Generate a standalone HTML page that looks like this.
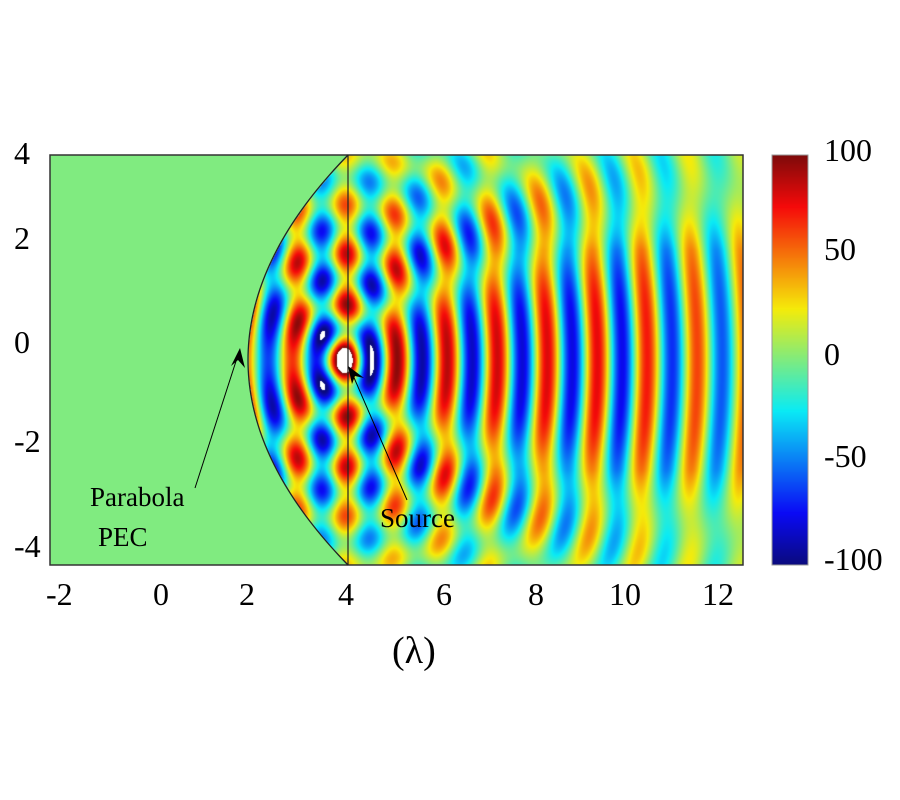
<!DOCTYPE html>
<html><head><meta charset="utf-8"><style>
body{margin:0;background:#fff;width:900px;height:800px;position:relative;overflow:hidden;font-family:"Liberation Serif",serif;}
.t{position:absolute;font-size:32px;color:#000;line-height:1;}
canvas{position:absolute;}
</style></head><body>
<canvas id="c" width="693" height="410" style="left:50px;top:155px"></canvas>
<canvas id="cb" width="36" height="410" style="left:772px;top:155px"></canvas>
<svg width="900" height="800" style="position:absolute;left:0;top:0">
<rect x="50" y="155" width="693" height="410" fill="none" stroke="#333" stroke-width="1.5"/>
<line x1="348" y1="155" x2="348" y2="565" stroke="#222" stroke-width="1.2"/>
<path id="par" fill="none" stroke="#222" stroke-width="1.3"/>
<rect x="772" y="155" width="36" height="410" fill="none" stroke="#999" stroke-width="1"/>
<line x1="195" y1="488" x2="238" y2="355" stroke="#000" stroke-width="1"/>
<polygon points="240,348 231,366 238,360 245,368" fill="#000"/>
<line x1="407" y1="500" x2="352" y2="373" stroke="#000" stroke-width="1"/>
<polygon points="348,366 352,384 355,376 364,378" fill="#000"/>
</svg>
<div class="t" style="left:14px;top:137px">4</div>
<div class="t" style="left:14px;top:222px">2</div>
<div class="t" style="left:14px;top:326px">0</div>
<div class="t" style="left:14px;top:425px">-2</div>
<div class="t" style="left:14px;top:530px">-4</div>
<div class="t" style="left:46px;top:578px">-2</div>
<div class="t" style="left:153px;top:578px">0</div>
<div class="t" style="left:239px;top:578px">2</div>
<div class="t" style="left:338px;top:578px">4</div>
<div class="t" style="left:436px;top:578px">6</div>
<div class="t" style="left:528px;top:578px">8</div>
<div class="t" style="left:609px;top:578px">10</div>
<div class="t" style="left:702px;top:578px">12</div>
<div class="t" style="left:392px;top:632px;font-size:38px">(λ)</div>
<div class="t" style="left:824px;top:134px">100</div>
<div class="t" style="left:824px;top:233px">50</div>
<div class="t" style="left:824px;top:338px">0</div>
<div class="t" style="left:824px;top:440px">-50</div>
<div class="t" style="left:824px;top:543px">-100</div>
<div class="t" style="left:90px;top:484px;font-size:27px">Parabola</div>
<div class="t" style="left:98px;top:524px;font-size:27px">PEC</div>
<div class="t" style="left:380px;top:505px;font-size:27px">Source</div>
<script>
function jet(v){
  var r=Math.min(Math.max(1.5-Math.abs(4*v-3),0),1),
      g=Math.min(Math.max(1.5-Math.abs(4*v-2),0),1),
      b=Math.min(Math.max(1.5-Math.abs(4*v-1),0),1);
  return [r*235+10,g*225+10,b*235+10];
}
var c=document.getElementById('c'),ctx=c.getContext('2d'),W=693,H=410;
var img=ctx.createImageData(W,H),d=img.data;
var sx=340,sy=360,lam=50,TP=2*Math.PI;
for(var py=0;py<H;py++){for(var px=0;px<W;px++){
  var X=px+50,Y=py+155,dy=Y-360;
  var parx=248+100*(dy/205)*(dy/205);
  var v=0;
  if(X>parx){
    var dx=X-sx,ddy=Y-sy,r=Math.sqrt(dx*dx+ddy*ddy);
    var direct=-Math.cos(TP*(r-32)/lam)*0.42/Math.sqrt(r/lam+0.1);
    var ay=Math.abs(dy);
    var taper=ay<110?1:Math.max(0.2,1-(ay-110)/130);
    var xf=X<620?1:Math.max(0.7,1-(X-620)/350);
    var refl=-Math.cos(TP*(X+0.0003*dy*dy*Math.max(0,Math.min(1,(X-300)/200))-122)/lam)*0.6*taper*xf;
    v=direct+refl;
  }
  var i=(py*W+px)*4,col;
  if(Math.abs(v)>1.05){col=[255,255,255];}
  else {var t=Math.max(0,Math.min(1,(v+1)/2));col=jet(t);}
  d[i]=col[0];d[i+1]=col[1];d[i+2]=col[2];d[i+3]=255;
}}
ctx.putImageData(img,0,0);
var cb=document.getElementById('cb').getContext('2d');
for(var y=0;y<410;y++){var col=jet(1-y/409);cb.fillStyle='rgb('+(col[0]|0)+','+(col[1]|0)+','+(col[2]|0)+')';cb.fillRect(0,y,36,1);}
var p='';for(var y=155;y<=565;y+=5){var dy=y-360;p+=(y==155?'M':'L')+(248+100*(dy/205)*(dy/205))+','+y;}
document.getElementById('par').setAttribute('d',p);
</script>
</body></html>
